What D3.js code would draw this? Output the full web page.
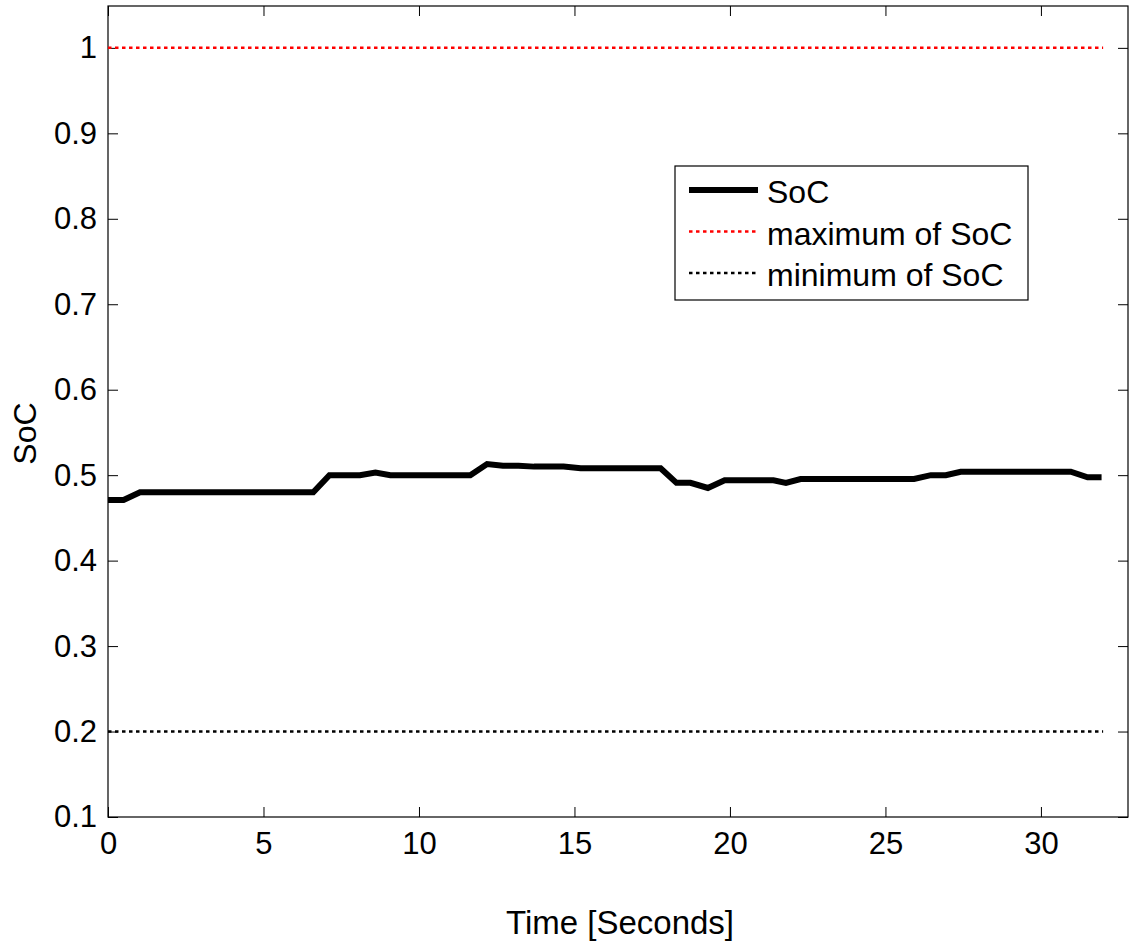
<!DOCTYPE html>
<html>
<head>
<meta charset="utf-8">
<script src="https://cdn.jsdelivr.net/npm/d3@7"></script>
<style>
  body { margin: 0; background: #fff; }
  svg { display: block; font-family: Arial, "Liberation Sans", sans-serif; }
</style>
</head>
<body>
<svg></svg>
<script>
const width = 1130;
const height = 945;

// SoC trace (time in seconds)
const times = [0, 0.5, 1.03, 6.6, 7.12, 8.1, 8.6, 9.08, 11.65, 12.19, 12.7, 13.2, 13.7, 14.65, 15.2, 17.77,
  18.28, 18.73, 19.29, 19.83, 21.4, 21.8, 22.27, 25.92, 26.46, 26.94, 27.42, 30.96, 31.5, 31.95];
const soc = [0.471, 0.471, 0.48, 0.48, 0.5, 0.5, 0.503, 0.5, 0.5, 0.513, 0.511, 0.511, 0.51, 0.51, 0.508, 0.508,
  0.491, 0.491, 0.485, 0.494, 0.494, 0.491, 0.4955, 0.4955, 0.5, 0.5, 0.504, 0.504, 0.4975, 0.4975];

// limits
const socMax = 1;
const socMin = 0.2;

const xTicks = [0, 5, 10, 15, 20, 25, 30];
const yTicks = [0.1, 0.2, 0.3, 0.4, 0.5, 0.6, 0.7, 0.8, 0.9, 1];

const legendLabels = ["SoC", "maximum of SoC", "minimum of SoC"];

const axLeft = 108, axRight = 1128, axTop = 6, axBottom = 817;

const x = d3.scaleLinear().domain([0, 32.8]).range([axLeft, axRight]);
const y = d3.scaleLinear().domain([0.1, 1.049]).range([axBottom, axTop]);

const svg = d3.select("svg")
  .attr("width", width)
  .attr("height", height);

const fmt = d => String(+d.toFixed(1));

// axes with inward ticks
svg.append("g")
  .attr("transform", `translate(0,${axBottom})`)
  .call(d3.axisBottom(x).tickValues(xTicks).tickSize(-10).tickPadding(15).tickFormat(fmt));
svg.append("g")
  .attr("transform", `translate(0,${axTop})`)
  .call(d3.axisTop(x).tickValues(xTicks).tickSize(-10).tickFormat(""));
svg.append("g")
  .attr("transform", `translate(${axLeft},0)`)
  .call(d3.axisLeft(y).tickValues(yTicks).tickSize(-10).tickPadding(11).tickFormat(fmt));
svg.append("g")
  .attr("transform", `translate(${axRight},0)`)
  .call(d3.axisRight(y).tickValues(yTicks).tickSize(-10).tickFormat(""));

svg.selectAll(".domain").remove();
svg.selectAll(".tick line").attr("stroke", "#000");
svg.selectAll(".tick text")
  .attr("font-size", 31)
  .attr("fill", "#000")
  .style("font-family", "Arial, 'Liberation Sans', sans-serif");

// box
svg.append("rect")
  .attr("x", axLeft).attr("y", axTop)
  .attr("width", axRight - axLeft).attr("height", axBottom - axTop)
  .attr("fill", "none")
  .attr("stroke", "#000")
  .attr("stroke-width", 1.2);

// limit lines
const xEnd = d3.max(times) + 0.05;
svg.append("line")
  .attr("x1", x(0)).attr("x2", x(xEnd))
  .attr("y1", y(socMax)).attr("y2", y(socMax))
  .attr("stroke", "#ff0000").attr("stroke-width", 2.5)
  .attr("stroke-dasharray", "3.5,3.5");
svg.append("line")
  .attr("x1", x(0)).attr("x2", x(xEnd))
  .attr("y1", y(socMin)).attr("y2", y(socMin))
  .attr("stroke", "#000").attr("stroke-width", 2.5)
  .attr("stroke-dasharray", "3.5,3.5");

// SoC line
const line = d3.line()
  .x((d, i) => x(times[i]))
  .y(d => y(d));
svg.append("path")
  .datum(soc)
  .attr("d", line)
  .attr("fill", "none")
  .attr("stroke", "#000")
  .attr("stroke-width", 6);

// axis labels
svg.append("text")
  .attr("x", (axLeft + axRight) / 2 + 2)
  .attr("y", 934)
  .attr("text-anchor", "middle")
  .attr("font-size", 33)
  .text("Time [Seconds]");
svg.append("text")
  .attr("transform", `translate(36,${(axTop + axBottom) / 2 + 22}) rotate(-90)`)
  .attr("text-anchor", "middle")
  .attr("font-size", 32)
  .text("SoC");

// legend
const legend = svg.append("g");
legend.append("rect")
  .attr("x", 675).attr("y", 166)
  .attr("width", 353).attr("height", 134)
  .attr("fill", "#fff")
  .attr("stroke", "#000")
  .attr("stroke-width", 1.2);

const legendStyles = [
  { stroke: "#000", width: 6, dash: null },
  { stroke: "#ff0000", width: 2.5, dash: "3.5,3.5" },
  { stroke: "#000", width: 2.5, dash: "3.5,3.5" }
];
const rows = legend.selectAll("g.row")
  .data(legendLabels).enter().append("g")
  .attr("class", "row")
  .attr("transform", (d, i) => `translate(0,${190 + i * 41.5})`);
rows.append("line")
  .attr("x1", 689).attr("x2", 758)
  .attr("y1", 0).attr("y2", 0)
  .attr("stroke", (d, i) => legendStyles[i].stroke)
  .attr("stroke-width", (d, i) => legendStyles[i].width)
  .attr("stroke-dasharray", (d, i) => legendStyles[i].dash);
rows.append("text")
  .attr("x", 767)
  .attr("y", 13)
  .attr("font-size", 32)
  .text(d => d);
</script>
</body>
</html>
